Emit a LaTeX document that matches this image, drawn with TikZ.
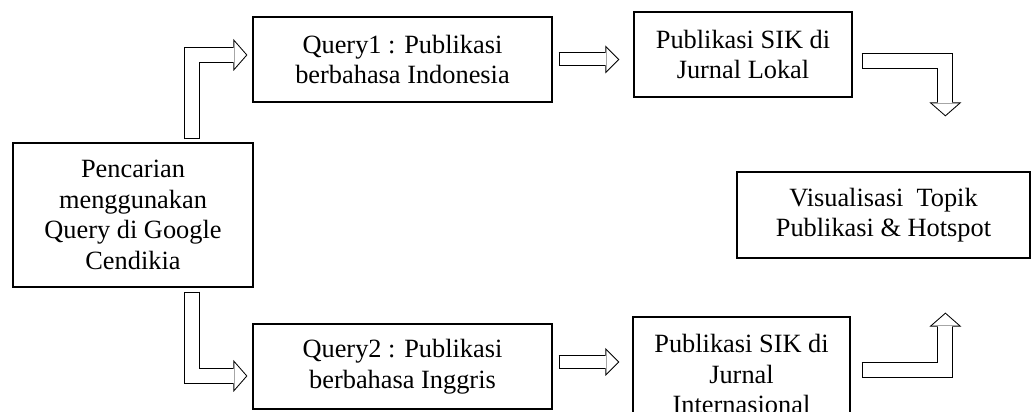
\documentclass[tikz,border=0pt]{standalone}
\usepackage{fontspec}
\setmainfont{Liberation Serif}
\usepackage{tikz}
\usetikzlibrary{arrows.meta,calc}

\tikzset{
  kotak/.style={draw, line width=0.7pt, align=center, inner sep=0pt,
    font=\fontsize{15}{17.4}\selectfont},
  % hollow block arrows: black outline, white inside
  panah/.style={line width=0.32cm,
    -{Triangle[length=0.28cm,width=0.64cm,line width=0pt]},
    postaction={draw=white, line width=0.28cm, shorten <=0.02cm, shorten >=0.0266cm,
      -{Triangle[length=0.2334cm,width=0.5335cm,line width=0pt]}}},
  panahkecil/.style={line width=0.28cm,
    -{Triangle[length=0.28cm,width=0.56cm,line width=0pt]},
    postaction={draw=white, line width=0.24cm, shorten <=0.02cm, shorten >=0.0283cm,
      -{Triangle[length=0.2317cm,width=0.4634cm,line width=0pt]}}},
}

\begin{document}
\begin{tikzpicture}
\useasboundingbox (0,0) rectangle (20.7,8.24);
\node[kotak, minimum width=4.8cm, minimum height=2.88cm] (cari) at (2.66,3.94) {Pencarian\\menggunakan\\Query di Google\\Cendikia};
\node[kotak, minimum width=5.98cm, minimum height=1.7cm] (query1) at (8.05,7.05) {Query1 : Publikasi\\berbahasa Indonesia};
\node[kotak, minimum width=5.98cm, minimum height=1.7cm] (query2) at (8.05,0.91) {Query2 : Publikasi\\berbahasa Inggris};
\node[kotak, minimum width=4.36cm, minimum height=1.7cm] (lokal) at (14.86,7.15) {Publikasi SIK di\\Jurnal Lokal};
\node[kotak, minimum width=4.34cm, minimum height=2.28cm] (inter) at (14.83,0.76) {Publikasi SIK di\\Jurnal\\Internasional};
\node[kotak, minimum width=5.86cm, minimum height=1.72cm] (visual) at (17.67,3.94) {Visualisasi~ Topik\\Publikasi \& Hotspot};

\draw[panah] ($(cari.north east)+(-1.24,0.06)$) |- ($(query1.west)+(-0.1,0.09)$);
\draw[panah] ($(cari.south east)+(-1.24,-0.08)$) |- ($(query2.west)+(-0.1,-0.19)$);
\draw[panahkecil] ($(query1.east)+(0.12,0)$) -- ($(query1.east -| lokal.west)+(-0.28,0)$);
\draw[panahkecil] ($(query2.east)+(0.12,0.09)$) -- ($(query2.east -| inter.west)+(-0.26,0.09)$);
\draw[panah] ($(lokal.east)+(0.18,-0.13)$) -| ($(visual.north west)+(4.18,1.1)$);
\draw[panah] ($(inter.east)+(0.22,0.08)$) -| ($(visual.south west)+(4.18,-1.08)$);
\end{tikzpicture}
\end{document}
